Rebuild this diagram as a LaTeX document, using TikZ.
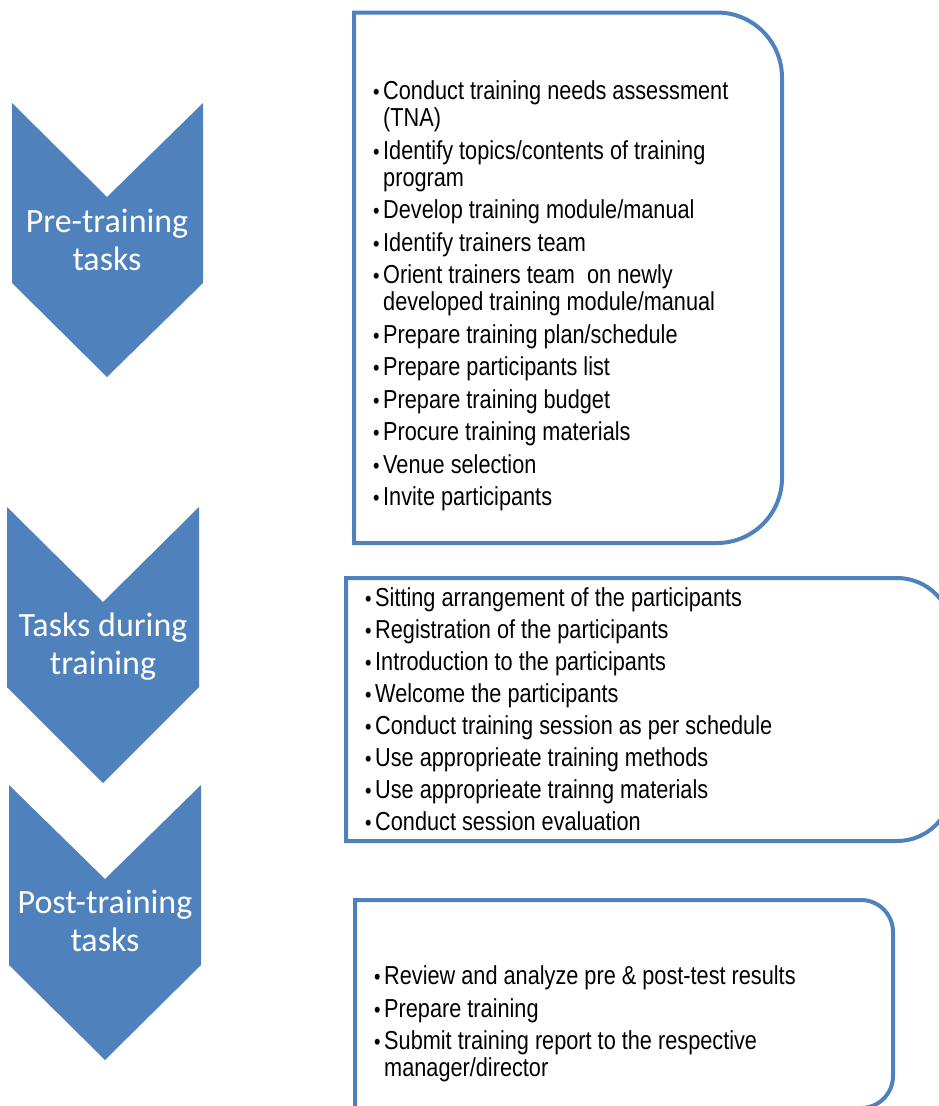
\documentclass[tikz,border=0pt]{standalone}
\usepackage{fontspec}
\setmainfont[FakeStretch=0.835]{Liberation Sans}
\newfontfamily\chevfont{Carlito}
\definecolor{chevblue}{HTML}{4F81BD}
\tikzset{
  chevron/.style={fill=chevblue},
  chevlabel/.style={text=white, font=\chevfont\fontsize{34}{38}\selectfont, align=center, inner sep=0pt},
  taskbox/.style={draw=chevblue, line width=4pt},
  tasklist/.style={anchor=base west, inner sep=0pt, font=\fontsize{26}{27}\selectfont}
}
\newcommand{\bul}{\makebox[10pt][l]{\fontsize{22}{22}\selectfont\textbullet}}
\begin{document}
\begin{tikzpicture}[x=1pt,y=-1pt]
  \useasboundingbox (0,0) rectangle (939,1106);
  \clip (0,0) rectangle (939,1106);

  % chevrons
  \fill[chevron] (12,103) -- (107,197) -- (203,103) -- (203,283) -- (107,377) -- (12,283) -- cycle;
  \fill[chevron] (7,507) -- (103,602) -- (199,507) -- (199,687) -- (103,783) -- (7,687) -- cycle;
  \fill[chevron] (9,785) -- (105,879) -- (201,785) -- (201,965) -- (105,1060) -- (9,965) -- cycle;
  \node[chevlabel] (pre) at (107,240) {Pre-training\\tasks};
  \node[chevlabel] (during) at (103,647) {Tasks during\\training};
  \node[chevlabel] (post) at (105,921) {Post-training\\tasks};

  % boxes
  \draw[taskbox] (354,12.5) -- (717,12.5) .. controls (752.9,12.5) and (782,41.6) .. (782,77.5)
    -- (782,478) .. controls (782,513.9) and (752.9,543) .. (717,543) -- (354,543) -- cycle;
  \draw[taskbox] (346,578) -- (897,578) .. controls (927.4,578) and (952,602.6) .. (952,633)
    -- (952,786) .. controls (952,816.4) and (927.4,841) .. (897,841) -- (346,841) -- cycle;
  \draw[taskbox] (355,900) -- (861,900) .. controls (878.7,900) and (893,914.3) .. (893,932)
    -- (893,1076) .. controls (893,1093.7) and (878.7,1108) .. (861,1108) -- (355,1108) -- cycle;

  \node[tasklist] (prelist) at (373,99.5) {\begin{tabular}[t]{@{}l@{}l@{}}
    \bul & Conduct training needs assessment\\
         & (TNA)\\[5.5pt]
    \bul & Identify topics/contents of training\\
         & program\\[5.5pt]
    \bul & Develop training module/manual\\[5.5pt]
    \bul & Identify trainers team\\[5.5pt]
    \bul & Orient trainers team\ \ on newly\\
         & developed training module/manual\\[5.5pt]
    \bul & Prepare training plan/schedule\\[5.5pt]
    \bul & Prepare participants list\\[5.5pt]
    \bul & Prepare training budget\\[5.5pt]
    \bul & Procure training materials\\[5.5pt]
    \bul & Venue selection\\[5.5pt]
    \bul & Invite participants
  \end{tabular}};

  \node[tasklist] (duringlist) at (365,606.5) {\begin{tabular}[t]{@{}l@{}l@{}}
    \bul & Sitting arrangement of the participants\\[5pt]
    \bul & Registration of the participants\\[5pt]
    \bul & Introduction to the participants\\[5pt]
    \bul & Welcome the participants\\[5pt]
    \bul & Conduct training session as per schedule\\[5pt]
    \bul & Use approprieate training methods\\[5pt]
    \bul & Use approprieate trainng materials\\[5pt]
    \bul & Conduct session evaluation
  \end{tabular}};

  \node[tasklist] (postlist) at (374,984.5) {\begin{tabular}[t]{@{}l@{}l@{}}
    \bul & Review and analyze pre \& post-test results\\[5.5pt]
    \bul & Prepare training\\[5.5pt]
    \bul & Submit training report to the respective\\
         & manager/director
  \end{tabular}};
\end{tikzpicture}
\end{document}
